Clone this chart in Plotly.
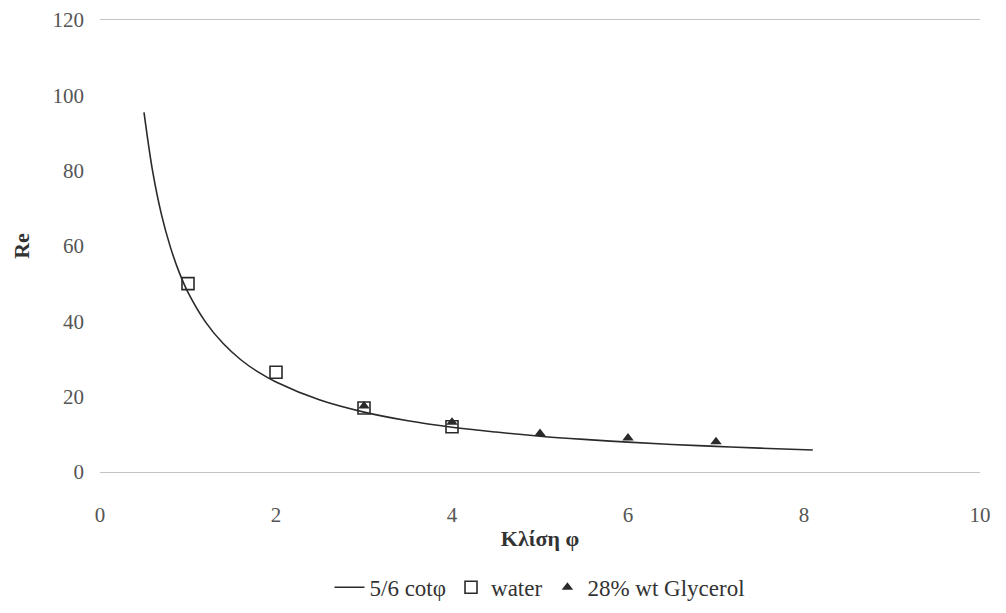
import plotly.graph_objects as go

# Theoretical curve Re = 5/6 cot(phi), sampled values
curve_phi = [0.5, 0.6, 0.7, 0.8, 0.9, 1.0, 1.2, 1.4, 1.6, 1.8, 2.0, 2.5, 3.0,
             3.5, 4.0, 4.5, 5.0, 5.5, 6.0, 6.5, 7.0, 7.5, 8.1]
curve_re = [95.5, 79.6, 68.2, 59.7, 53.0, 47.7, 39.8, 34.1, 29.8, 26.5, 23.9,
            19.1, 15.9, 13.6, 11.9, 10.6, 9.5, 8.65, 7.93, 7.32, 6.79, 6.33, 5.86]

# Measured points
water_phi = [1, 2, 3, 4]
water_re = [50.0, 26.5, 17.0, 12.0]

glycerol_phi = [3, 4, 5, 6, 7]
glycerol_re = [17.5, 13.2, 10.2, 9.0, 8.0]

# Axis ticks
x_ticks = [0, 2, 4, 6, 8, 10]
y_ticks = [0, 20, 40, 60, 80, 100, 120]

serif = "Liberation Serif"
ink = "#2a2a2a"

fig = go.Figure()
fig.add_trace(go.Scatter(
    x=curve_phi, y=curve_re, mode="lines", name="5/6 cotφ",
    line=dict(color=ink, width=1.6, shape="spline", smoothing=1.0),
))
fig.add_trace(go.Scatter(
    x=water_phi, y=water_re, mode="markers", name="water",
    marker=dict(symbol="square-open", size=12, color=ink,
                line=dict(color=ink, width=1.6)),
))
fig.add_trace(go.Scatter(
    x=glycerol_phi, y=glycerol_re, mode="markers", name="28% wt Glycerol",
    marker=dict(symbol="triangle-up", size=10, color=ink),
))

fig.update_layout(
    width=1006, height=613,
    margin=dict(l=100, r=26, t=20, b=141, autoexpand=False),
    paper_bgcolor="white", plot_bgcolor="white",
    font=dict(family=serif, color="#555555", size=20),
    showlegend=True,
    legend=dict(
        orientation="h", x=0.5, xanchor="center", y=-0.255, yanchor="middle",
        font=dict(family=serif, size=23, color="#333333"),
        itemwidth=30, tracegroupgap=0,
    ),
    xaxis=dict(
        range=[0, 10], tickvals=x_ticks, ticktext=[str(v) for v in x_ticks],
        showgrid=False, zeroline=False, automargin=False,
        showline=True, mirror=True, linecolor="#c4c4c4", linewidth=1,
        ticks="", ticklabelstandoff=24,
        tickfont=dict(family=serif, size=21, color="#555555"),
        title=dict(text="<b>Κλίση φ</b>", standoff=4,
                   font=dict(family=serif, size=22, color="#333333")),
    ),
    yaxis=dict(
        range=[0, 120], tickvals=y_ticks, ticktext=[str(v) for v in y_ticks],
        showgrid=False, zeroline=False, showline=False, automargin=False,
        ticks="", ticklabelstandoff=15,
        tickfont=dict(family=serif, size=21, color="#555555"),
        title=dict(text="<b>Re</b>", standoff=16,
                   font=dict(family=serif, size=22, color="#333333")),
    ),
)

fig.write_html("out.html")
